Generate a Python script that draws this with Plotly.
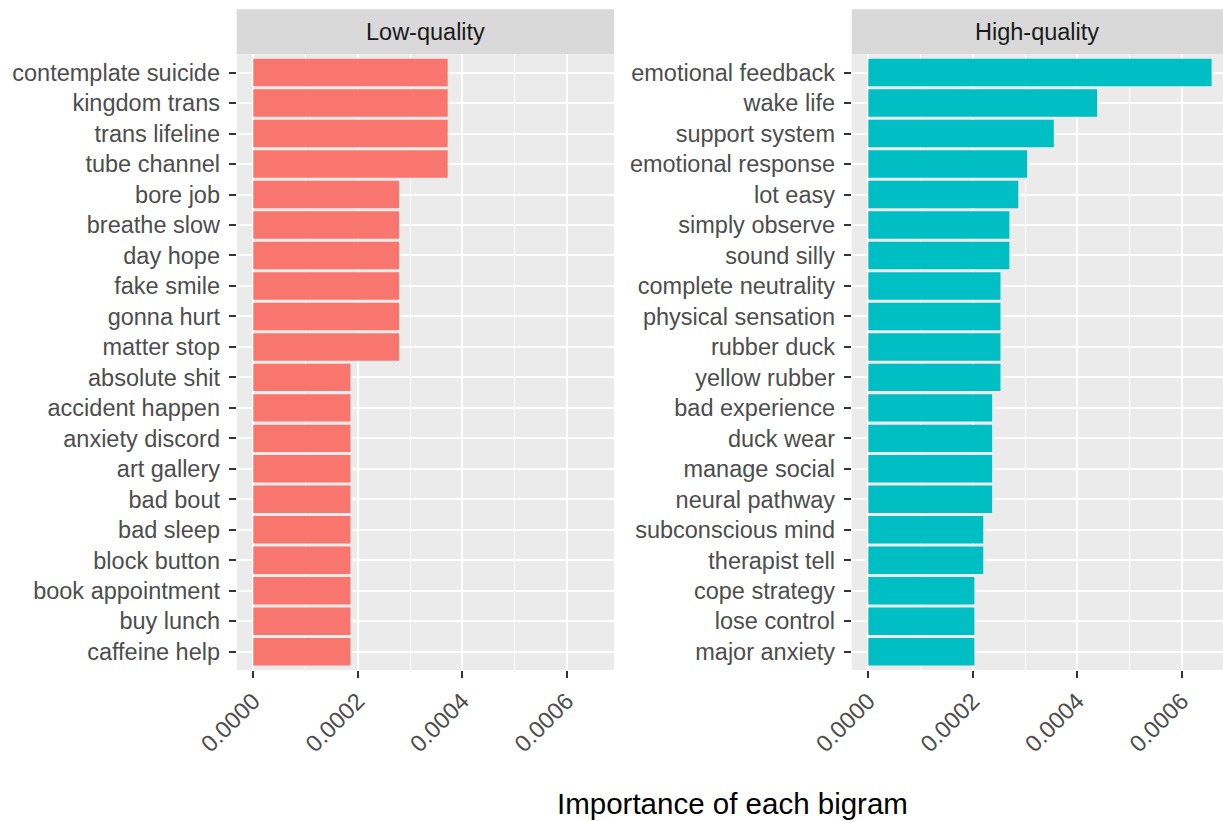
import plotly.graph_objects as go

W, H = 1223, 821

low_labels = ["contemplate suicide", "kingdom trans", "trans lifeline", "tube channel",
              "bore job", "breathe slow", "day hope", "fake smile", "gonna hurt", "matter stop",
              "absolute shit", "accident happen", "anxiety discord", "art gallery", "bad bout",
              "bad sleep", "block button", "book appointment", "buy lunch", "caffeine help"]
low_values = [0.000372, 0.000372, 0.000372, 0.000372,
              0.000279, 0.000279, 0.000279, 0.000279, 0.000279, 0.000279,
              0.000186, 0.000186, 0.000186, 0.000186, 0.000186,
              0.000186, 0.000186, 0.000186, 0.000186, 0.000186]

high_labels = ["emotional feedback", "wake life", "support system", "emotional response",
               "lot easy", "simply observe", "sound silly", "complete neutrality",
               "physical sensation", "rubber duck", "yellow rubber", "bad experience",
               "duck wear", "manage social", "neural pathway", "subconscious mind",
               "therapist tell", "cope strategy", "lose control", "major anxiety"]
high_values = [0.000657, 0.000438, 0.000355, 0.000304,
               0.000287, 0.000270, 0.000270, 0.000253,
               0.000253, 0.000253, 0.000253, 0.000237,
               0.000237, 0.000237, 0.000237, 0.000220,
               0.000220, 0.000203, 0.000203, 0.000203]

panel_titles = ["Low-quality", "High-quality"]
x_title = "Importance of each bigram"
x_ticks = [0.0, 0.0002, 0.0004, 0.0006]
x_tick_text = ["0.0000", "0.0002", "0.0004", "0.0006"]

FONT = "Liberation Sans, Arial, Helvetica, sans-serif"
FS = 23.5

def px_x(p):
    return p / W

def px_y(p):
    return 1 - p / H

# panel geometry (pixels)
L1, R1 = 236.7, 614.0
L2, R2 = 851.7, 1223.0
TOP, BOT = 54.3, 670.0
STRIP_TOP = 9.3

x0_val = 253.3
scale = 0.0002 / 104.5  # value per pixel
xr1 = [(L1 - x0_val) * scale, (R1 - x0_val) * scale]
xr2 = [(L2 - 868.3) * scale, (R2 - 868.3) * scale]

fig = go.Figure()
fig.add_trace(go.Bar(x=low_values, y=low_labels, orientation="h", width=0.9,
                     marker=dict(color="#F8766D", line=dict(width=0)),
                     xaxis="x", yaxis="y", showlegend=False))
fig.add_trace(go.Bar(x=high_values, y=high_labels, orientation="h", width=0.9,
                     marker=dict(color="#00BFC4", line=dict(width=0)),
                     xaxis="x2", yaxis="y2", showlegend=False))

n = len(low_labels)
common_x = dict(tickvals=x_ticks, ticktext=x_tick_text, tickangle=-45,
                showgrid=True, gridcolor="white", gridwidth=2.4,
                minor=dict(tickvals=[0.0001, 0.0003, 0.0005], showgrid=True,
                           gridcolor="white", gridwidth=1.2, ticks=""),
                ticks="outside", ticklen=7, tickwidth=2.2, tickcolor="#333333",
                tickfont=dict(family=FONT, size=FS, color="#4D4D4D"),
                zeroline=False, showline=False, automargin=False)
common_y = dict(type="category", range=[n - 1 + 0.6, -0.6],
                showgrid=True, gridcolor="white", gridwidth=2.4,
                ticks="outside", ticklen=7, tickwidth=2.2, tickcolor="#333333",
                tickfont=dict(family=FONT, size=FS, color="#4D4D4D"),
                zeroline=False, showline=False, ticklabelstandoff=4, automargin=False)

fig.update_layout(
    width=W, height=H,
    margin=dict(l=0, r=0, t=0, b=0, autoexpand=False),
    paper_bgcolor="white", plot_bgcolor="#EBEBEB",
    bargap=0.1,
    xaxis=dict(domain=[px_x(L1), px_x(R1)], range=xr1, anchor="y", **common_x),
    yaxis=dict(domain=[px_y(BOT), px_y(TOP)], anchor="x", categoryarray=low_labels, categoryorder="array", **common_y),
    xaxis2=dict(domain=[px_x(L2), px_x(R2)], range=xr2, anchor="y2", **common_x),
    yaxis2=dict(domain=[px_y(BOT), px_y(TOP)], anchor="x2", categoryarray=high_labels, categoryorder="array", **common_y),
)

# strips
for (l, r), title in zip([(L1, R1), (L2, R2)], panel_titles):
    fig.add_shape(type="rect", xref="paper", yref="paper",
                  x0=px_x(l), x1=px_x(r), y0=px_y(TOP), y1=px_y(STRIP_TOP),
                  fillcolor="#D9D9D9", line=dict(width=0), layer="below")
    fig.add_annotation(xref="paper", yref="paper", x=px_x((l + r) / 2), y=px_y((TOP + STRIP_TOP) / 2),
                       text=title, showarrow=False, xanchor="center", yanchor="middle",
                       font=dict(family=FONT, size=FS, color="#1A1A1A"))

fig.add_annotation(xref="paper", yref="paper", x=px_x(732), y=px_y(803),
                   text=x_title, showarrow=False, xanchor="center", yanchor="middle",
                   font=dict(family=FONT, size=29.5, color="black"))

fig.write_html("out.html", config={"displayModeBar": False},
               post_script="document.body.style.margin='0';")
